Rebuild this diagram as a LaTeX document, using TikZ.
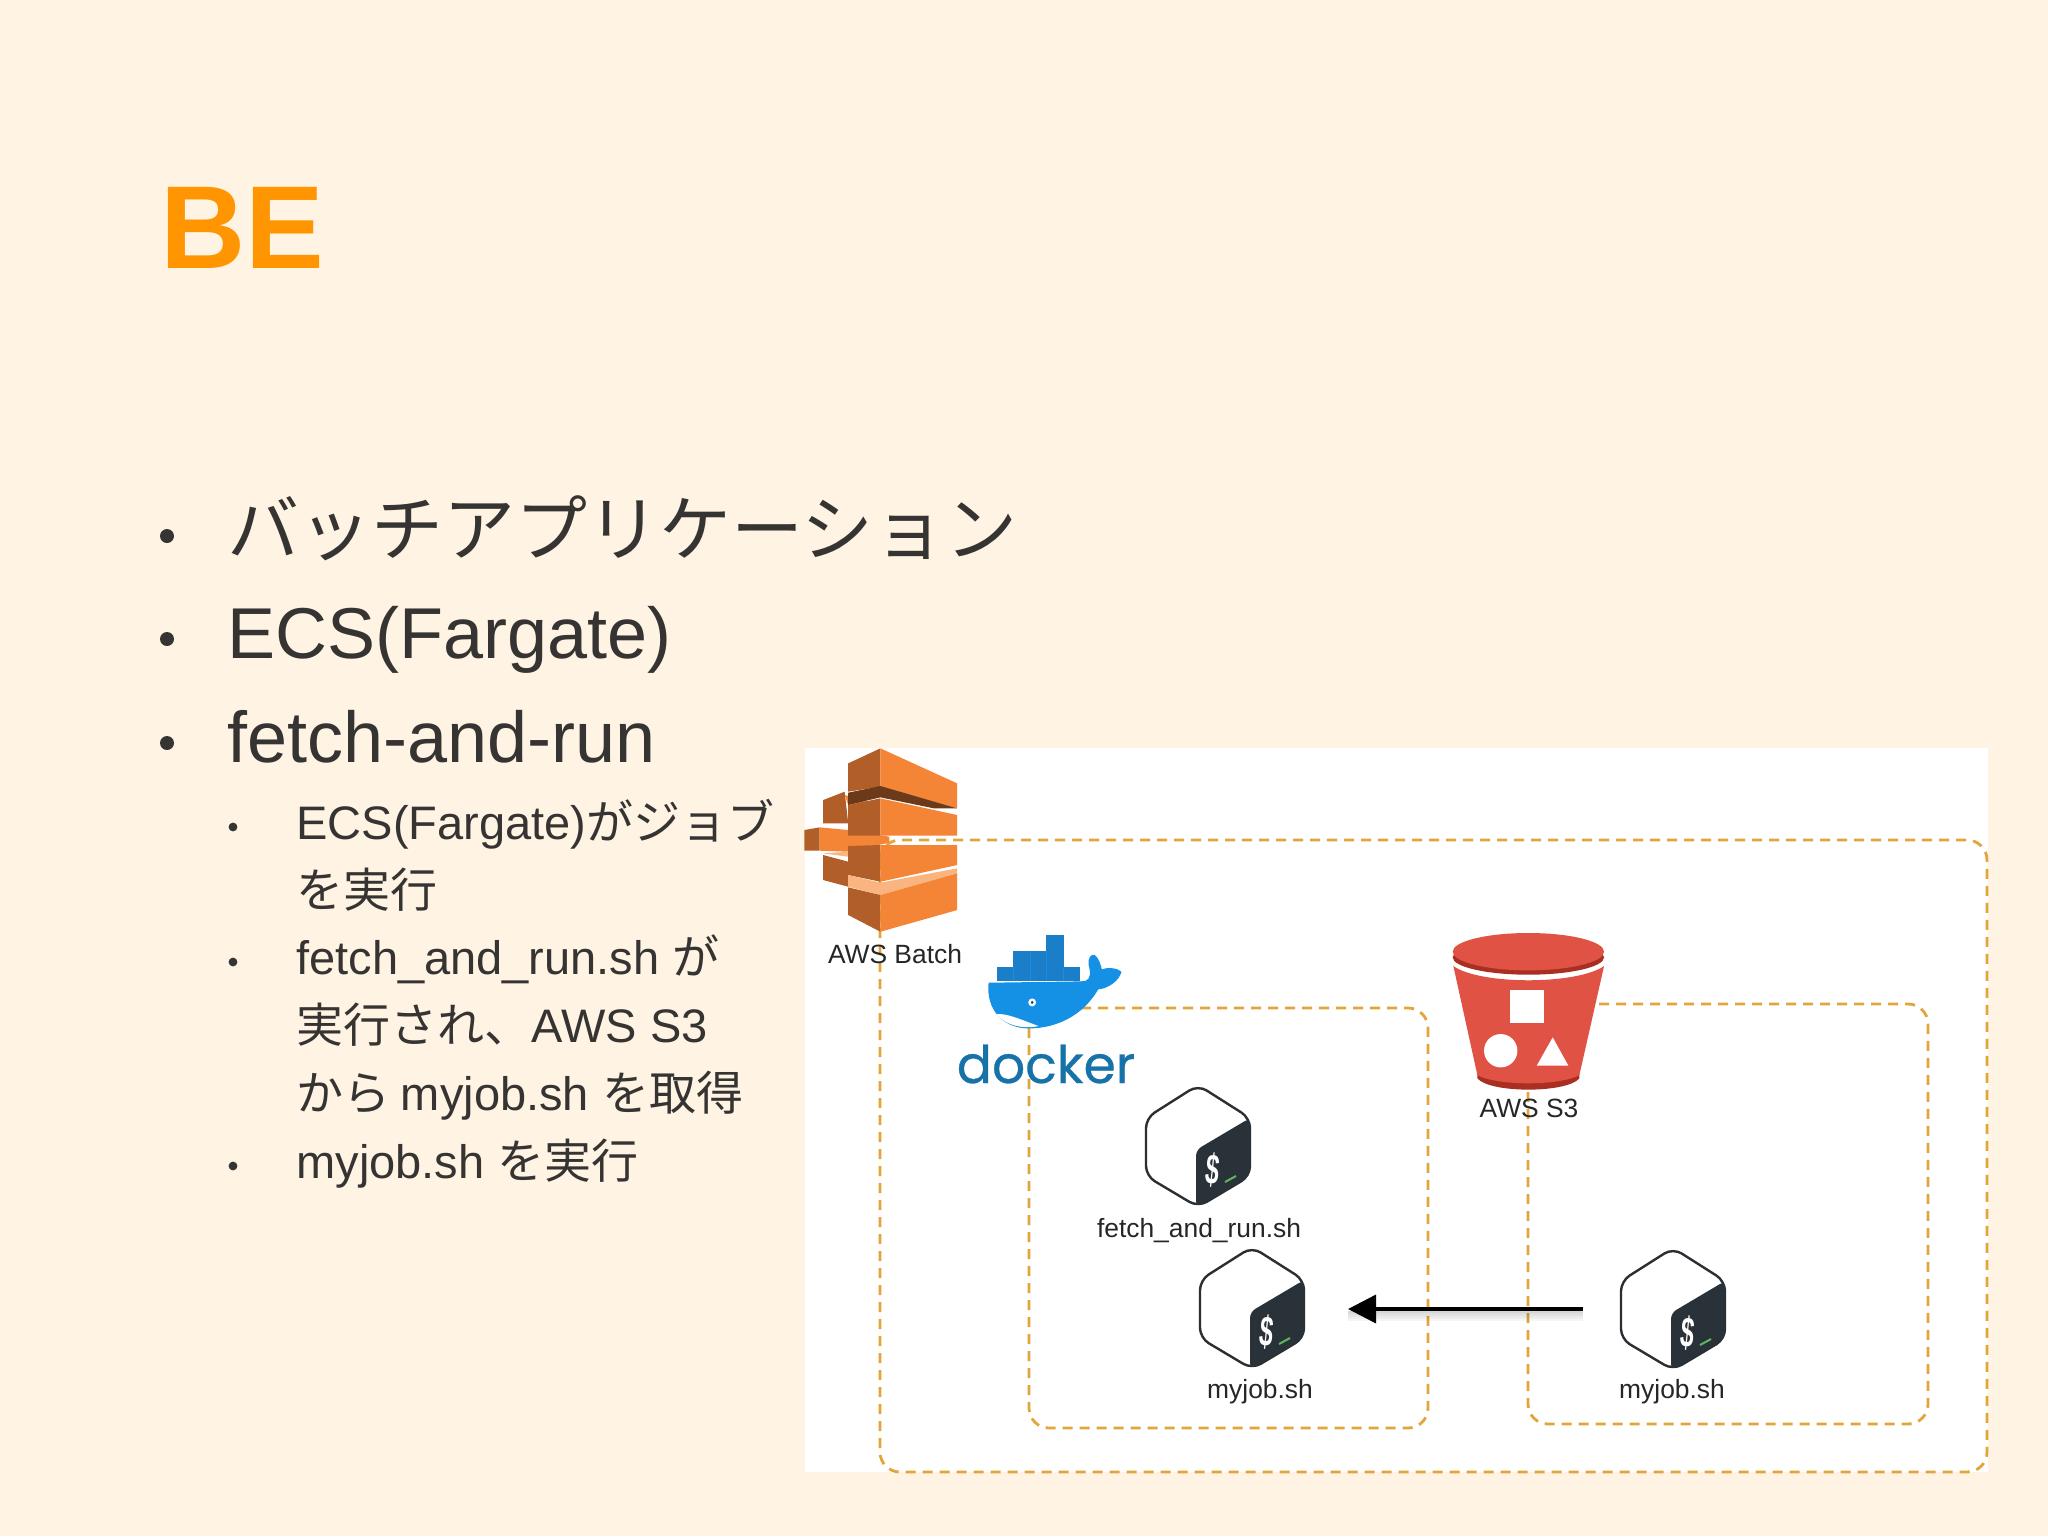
\documentclass[tikz,border=0pt]{standalone}
\usepackage{fontspec}
\setmainfont{Liberation Sans}
\newfontfamily\cjk{Noto Sans CJK JP}
\newfontfamily\dockerfont[FakeBold=0.5]{Poppins}
\usepackage{tikz}
\usetikzlibrary{arrows.meta}

\definecolor{slidebg}{HTML}{FFF4E3}
\definecolor{titleorange}{HTML}{FF9500}
\definecolor{textgray}{HTML}{363433}
\definecolor{dashgold}{HTML}{E2A53C}
\definecolor{batchlight}{HTML}{F58536}
\definecolor{batchdark}{HTML}{B25E28}
\definecolor{batchband}{HTML}{6B3A1A}
\definecolor{batchpale}{HTML}{F9B47F}
\definecolor{whaleblue}{HTML}{1490E4}
\definecolor{crateblue}{HTML}{1A7FC8}
\definecolor{dockertext}{HTML}{1672A8}
\definecolor{bucketred}{HTML}{E05243}
\definecolor{bucketdark}{HTML}{A92F22}
\definecolor{cubedark}{HTML}{293238}
\definecolor{cubeline}{HTML}{2B2F33}
\definecolor{cubegreen}{HTML}{5DB85D}

\tikzset{
  bashcube/.pic={
    \draw[cubeline,line width=1.2pt,fill=white,rounded corners=5pt]
      (0,-61) -- (52,-28) -- (52,30) -- (0,61) -- (-52,30) -- (-52,-28) -- cycle;
    \fill[cubedark,rounded corners=3pt]
      (52,-28) -- (-2,4) -- (-2,61) -- (52,30) -- cycle;
    \node[text=white,inner sep=0pt,rotate=-6,font=\fontsize{17}{17}\bfseries\selectfont] (-sign) at (15,24) {\scalebox{0.72}[1.25]{\$}};
    \draw[cubegreen,line width=1pt] (27,36) -- (38,30);
  }
}

\begin{document}
\begin{tikzpicture}[x=0.5pt,y=-0.5pt,
    bigline/.style={anchor=base west,inner sep=0pt,text=textgray,font=\fontsize{36}{40}\selectfont},
    subline/.style={anchor=base west,inner sep=0pt,text=textgray,font=\fontsize{23.5}{28}\selectfont},
    bigdot/.style={circle,fill=textgray,inner sep=0pt,minimum size=7pt},
    subdot/.style={circle,fill=textgray,inner sep=0pt,minimum size=4.4pt},
    iconlabel/.style={anchor=base,inner sep=0pt,text=black!85,font=\fontsize{13.2}{15}\selectfont},
    dashbox/.style={draw=dashgold,line width=1.4pt,dash pattern=on 5pt off 3.5pt,rounded corners=10pt}]

  \fill[slidebg] (0,0) rectangle (2048,1536);
  \useasboundingbox (0,0) rectangle (2048,1536);

  % title and text
  \node[anchor=base west,inner sep=0pt,text=titleorange,font=\fontsize{59}{60}\bfseries\selectfont] (title) at (160,268) {BE};

  \node[bigdot] (dot1) at (167,536) {};
  \node[bigdot] (dot2) at (167,639) {};
  \node[bigdot] (dot3) at (167,743) {};
  \node[bigline] (line1) at (227,555) {\cjk バッチアプリケーション};
  \node[bigline] (line2) at (227,658) {ECS(Fargate)};
  \node[bigline] (line3) at (227,762) {fetch-and-run};

  \node[subdot] (dot4) at (233,827) {};
  \node[subdot] (dot5) at (233,962) {};
  \node[subdot] (dot6) at (233,1166) {};
  \node[subline] (sub1) at (296,839)  {ECS(Fargate){\cjk がジョブ}};
  \node[subline] (sub2) at (296,907)  {\cjk を実行};
  \node[subline] (sub3) at (296,974)  {fetch\_and\_run.sh {\cjk が}};
  \node[subline] (sub4) at (296,1042) {{\cjk 実行され、}AWS S3};
  \node[subline] (sub5) at (296,1110) {{\cjk から }myjob.sh {\cjk を取得}};
  \node[subline] (sub6) at (296,1178) {myjob.sh {\cjk を実行}};

  % the pasted picture
  \fill[white] (805,748) rectangle (1988,1472);
  \draw[dashbox] (880,840) rectangle (1987,1472);
  \draw[dashbox] (1029,1008) rectangle (1428,1428);
  \draw[dashbox] (1528,1004) rectangle (1928,1424);

  % AWS Batch logo
  \begin{scope}[shift={(800,740)},x=0.17857pt,y=-0.1667pt]
    \fill[batchdark] (65,180) -- (125,155) -- (135,250) -- (65,250) -- cycle;
    \fill[batchdark] (12,270) -- (55,262) -- (55,332) -- (12,332) -- cycle;
    \fill[batchlight] (55,262) -- (135,270) -- (250,290) -- (250,308) -- (135,335) -- (55,332) -- cycle;
    \fill[batchdark] (65,345) -- (135,365) -- (135,440) -- (65,420) -- cycle;
    \fill[batchpale] (135,350) -- (65,340) -- (135,335) -- cycle;
    \fill[batchlight] (125,165) -- (190,185) -- (135,195) -- cycle;
    % top block
    \fill[batchdark] (135,70) -- (225,25) -- (225,140) -- (135,155) -- cycle;
    \fill[batchlight] (225,25) -- (440,130) -- (440,205) -- (225,140) -- cycle;
    \fill[batchband] (135,158) -- (225,138) -- (440,205) -- (375,205) -- (225,172) -- (135,195) -- cycle;
    % second block
    \fill[batchdark] (135,195) -- (225,175) -- (225,287) -- (135,287) -- cycle;
    \fill[batchlight] (225,175) -- (440,225) -- (440,287) -- (225,287) -- cycle;
    % third block
    \fill[batchdark] (135,318) -- (225,315) -- (225,425) -- (135,405) -- cycle;
    \fill[batchlight] (225,315) -- (440,315) -- (440,375) -- (225,425) -- cycle;
    % bottom block
    \fill[batchpale] (135,405) -- (225,428) -- (440,385) -- (440,400) -- (225,465) -- (135,440) -- cycle;
    \fill[batchdark] (135,442) -- (225,465) -- (225,575) -- (135,525) -- cycle;
    \fill[batchlight] (225,465) -- (440,400) -- (440,510) -- (225,575) -- cycle;

    % docker whale
    \fill[crateblue] (688,585) rectangle (738,632);
    \fill[crateblue] (597,632) rectangle (738,680);
    \fill[crateblue] (552,680) rectangle (785,722);
    \foreach \cx in {598,644,690,736}
      \draw[whaleblue,line width=0.3pt] (\cx,680) -- (\cx,722);
    \foreach \cx in {644,690}
      \draw[whaleblue,line width=0.3pt] (\cx,632) -- (\cx,680);
    \fill[whaleblue] (528,728) -- (785,724) -- (800,722)
      .. controls (812,718) and (815,700) .. (808,675)
      .. controls (805,655) and (815,640) .. (825,645)
      .. controls (838,655) and (842,675) .. (845,688)
      .. controls (865,680) and (890,685) .. (900,695)
      .. controls (895,720) and (865,745) .. (835,748)
      .. controls (790,830) and (715,865) .. (640,865)
      .. controls (570,865) and (520,810) .. (528,728) -- cycle;
    \fill[white] (550,822) .. controls (580,820) and (610,835) .. (668,858)
      .. controls (620,868) and (575,855) .. (550,822) -- cycle;
    \fill[white] (650,787) circle [x radius=11,y radius=12];
    \fill[crateblue!60!black] (650,787) circle [x radius=4,y radius=5];
  \end{scope}

  % S3 bucket
  \begin{scope}[shift={(1420,900)},x=0.1667pt,y=-0.1667pt]
    \fill[bucketdark] (172,520) -- (478,520) -- (478,535)
      .. controls (440,580) and (210,580) .. (172,535) -- cycle;
    \fill[bucketred] (100,198) .. controls (180,255) and (470,255) .. (552,198)
      -- (478,525) .. controls (420,558) and (230,558) .. (172,525) -- cycle;
    \fill[bucketdark] (325,172) ellipse (227 and 52);
    \fill[bucketred] (325,155) ellipse (227 and 56);
    \fill[white] (270,270) rectangle (372,370);
    \fill[white] (242,452) circle (50);
    \fill[white] (398,412) -- (445,497) -- (350,497) -- cycle;
  \end{scope}

  % shell scripts
  \pic (cubefetch) at (1198,1146) {bashcube};
  \pic (cubelocal) at (1252,1308) {bashcube};
  \pic (cubes3)    at (1673,1309) {bashcube};

  % labels
  \node[iconlabel] (batchlabel) at (895,963)  {AWS Batch};
  \node[iconlabel] (s3label)    at (1529,1117) {AWS S3};
  \node[iconlabel] (fetchlabel) at (1199,1237) {fetch\_and\_run.sh};
  \node[iconlabel] (joblocal)   at (1260,1398) {myjob.sh};
  \node[iconlabel] (jobs3)      at (1672,1398) {myjob.sh};
  \node[anchor=base,inner sep=0pt,text=dockertext,font=\dockerfont\fontsize{26}{28}\selectfont] (dockerlabel) at (1046,1083) {docker};

  % arrow between the two scripts
  \coordinate (arrowfrom) at (1583,1309);
  \coordinate (arrowto)   at (1348,1309);
  \foreach \drop/\op in {3/0.16,5/0.13,7/0.10,9/0.07,11/0.04}
    \draw[black,opacity=\op,line width=1pt] ([yshift=-\drop*0.5pt]arrowfrom) -- ([yshift=-\drop*0.5pt]arrowto);
  \draw[-{Triangle[length=14pt,width=14pt]},line width=1.8pt,black] (arrowfrom) -- (arrowto);
\end{tikzpicture}
\end{document}
